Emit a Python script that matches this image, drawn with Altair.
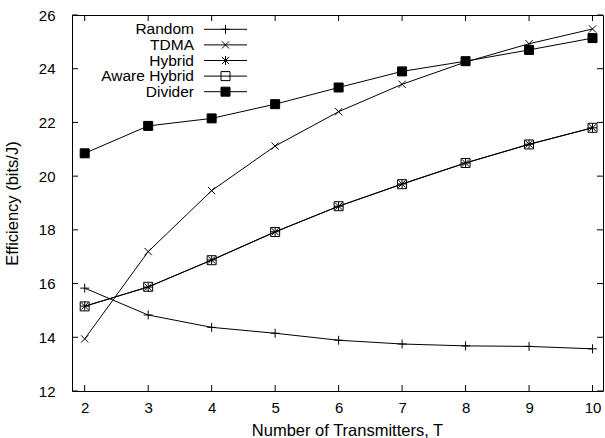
import altair as alt
import pandas as pd

# ---- data ----
transmitters = [2, 3, 4, 5, 6, 7, 8, 9, 10]
series_names = ["Random", "TDMA", "Hybrid", "Aware Hybrid", "Divider"]
random_vals = [15.83, 14.83, 14.37, 14.15, 13.89, 13.75, 13.68, 13.66, 13.57]
tdma_vals = [13.94, 17.19, 19.46, 21.12, 22.40, 23.42, 24.25, 24.93, 25.48]
hybrid_vals = [15.16, 15.87, 16.88, 17.93, 18.88, 19.71, 20.49, 21.19, 21.80]
aware_vals = [15.15, 15.88, 16.87, 17.92, 18.88, 19.70, 20.49, 21.18, 21.80]
divider_vals = [20.85, 21.87, 22.15, 22.68, 23.30, 23.90, 24.28, 24.70, 25.14]
x_ticks = [2, 3, 4, 5, 6, 7, 8, 9, 10]
y_ticks = [12, 14, 16, 18, 20, 22, 24, 26]

rows = []
for name, vals in zip(series_names, [random_vals, tdma_vals, hybrid_vals, aware_vals, divider_vals]):
    for t, v in zip(transmitters, vals):
        rows.append({"series": name, "x": t, "y": v})
df = pd.DataFrame(rows)
xt = pd.DataFrame({"x": x_ticks})
yt = pd.DataFrame({"y": y_ticks})
leg = pd.DataFrame({"series": series_names})

W, H = 531, 376
FONT = "Liberation Sans"

plus_path = "M-1,0L1,0M0,-1L0,1"
x_path = "M-0.8,-0.8L0.8,0.8M-0.8,0.8L0.8,-0.8"
star_path = "M-1,0L1,0M0,-1L0,1M-0.8,-0.8L0.8,0.8M-0.8,0.8L0.8,-0.8"

shape_scale = alt.Scale(domain=series_names,
                        range=[plus_path, x_path, star_path, "square", "square"])
fill_scale = alt.Scale(domain=series_names,
                       range=["transparent", "transparent", "transparent", "transparent", "black"])

x_scale = alt.Scale(domain=[1.8, 10.165], nice=False, zero=False)
y_scale = alt.Scale(domain=[12, 26], nice=False, zero=False)

x_axis = alt.Axis(values=x_ticks, tickSize=0, ticks=False, domain=False, grid=False,
                  labelFont=FONT, labelFontSize=15, labelColor="black", labelPadding=9,
                  title="Number of Transmitters, T", titleFont=FONT, titleFontSize=16.5,
                  titleFontWeight="normal", titleColor="black", titleX=275, titleY=39,
                  titleBaseline="middle")
y_axis = alt.Axis(values=y_ticks, tickSize=0, ticks=False, domain=False, grid=False,
                  labelFont=FONT, labelFontSize=15, labelColor="black", labelPadding=17,
                  title="Efficiency (bits/J)", titleFont=FONT, titleFontSize=16.5,
                  titleFontWeight="normal", titleColor="black", titleX=-60, titleY=188,
                  titleBaseline="middle", titleAngle=270)

X = alt.X("x:Q", scale=x_scale, axis=x_axis)
Y = alt.Y("y:Q", scale=y_scale, axis=y_axis)

base = alt.Chart(df)
lines = base.mark_line(color="black", strokeWidth=1).encode(x=X, y=Y, detail="series:N")
points = base.mark_point(size=81, strokeWidth=1, stroke="black", opacity=1).encode(
    x=X, y=Y,
    shape=alt.Shape("series:N", scale=shape_scale, legend=None),
    fill=alt.Fill("series:N", scale=fill_scale, legend=None),
)

xt_b = alt.Chart(xt).mark_rule(color="black", strokeWidth=1).encode(
    x=X, y=alt.value(H), y2=alt.value(H - 6))
xt_t = alt.Chart(xt).mark_rule(color="black", strokeWidth=1).encode(
    x=X, y=alt.value(0), y2=alt.value(6))
yt_l = alt.Chart(yt).mark_rule(color="black", strokeWidth=1).encode(
    y=Y, x=alt.value(0), x2=alt.value(6))
yt_r = alt.Chart(yt).mark_rule(color="black", strokeWidth=1).encode(
    y=Y, x=alt.value(W), x2=alt.value(W - 6))

main = alt.layer(xt_b, xt_t, yt_l, yt_r, lines, points)

LY = alt.Y("series:N", scale=alt.Scale(type="point", domain=series_names,
                                        range=[14.3, 76.7], padding=0), axis=None)
leg_base = alt.Chart(leg)
leg_rule = leg_base.mark_rule(color="black", strokeWidth=1).encode(
    y=LY, x=alt.value(132), x2=alt.value(175))
leg_pts = leg_base.mark_point(size=81, strokeWidth=1, stroke="black", opacity=1).encode(
    y=LY, x=alt.value(153.5),
    shape=alt.Shape("series:N", scale=shape_scale, legend=None),
    fill=alt.Fill("series:N", scale=fill_scale, legend=None),
)
leg_text = leg_base.mark_text(align="right", baseline="middle", font=FONT,
                              fontSize=15.5, color="black").encode(
    y=LY, x=alt.value(122), text="series:N")
legend = alt.layer(leg_rule, leg_pts, leg_text)

chart = alt.layer(main, legend).resolve_scale(y="independent").properties(
    width=W, height=H,
    autosize=alt.AutoSizeParams(type="none"),
    padding={"left": 72, "top": 15, "right": 2, "bottom": 47},
    background="white",
).configure_view(stroke="black", strokeWidth=1)

chart.save("out.html", embed_options={"renderer": "svg", "actions": False})
